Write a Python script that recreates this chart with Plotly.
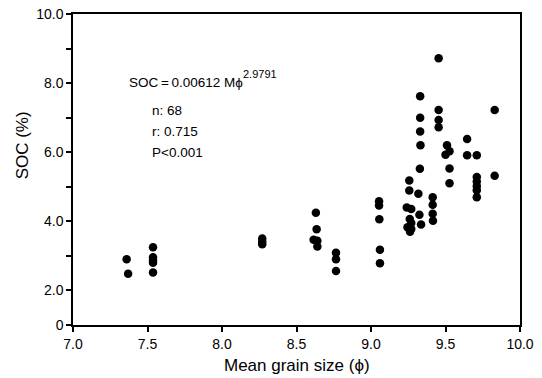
import plotly.graph_objects as go

# Mean grain size (phi) and soil organic carbon (%) for each sample
grain_size = [
    7.36, 7.37,
    7.537, 7.537, 7.537, 7.537, 7.537,
    8.27, 8.27, 8.27,
    8.63, 8.635, 8.615, 8.64, 8.64,
    8.765, 8.765, 8.765,
    9.054, 9.054, 9.056, 9.06, 9.06,
    9.257, 9.257, 9.24, 9.27, 9.26, 9.27, 9.245, 9.27, 9.262,
    9.318, 9.325, 9.336,
    9.33, 9.33, 9.33, 9.332, 9.328,
    9.414, 9.414, 9.414, 9.416,
    9.454, 9.454, 9.454, 9.454,
    9.51, 9.527, 9.50, 9.527, 9.527,
    9.645, 9.645,
    9.71, 9.71, 9.71, 9.71, 9.71, 9.71,
    9.83, 9.83,
]
soc = [
    2.90, 2.48,
    3.25, 2.96, 2.87, 2.80, 2.52,
    3.50, 3.42, 3.34,
    4.25, 3.77, 3.47, 3.44, 3.27,
    3.09, 2.90, 2.56,
    4.58, 4.46, 4.06, 3.18, 2.79,
    5.18, 4.89, 4.40, 4.36, 4.07, 3.95, 3.83, 3.78, 3.70,
    4.80, 4.19, 3.91,
    7.62, 7.00, 6.60, 6.20, 5.52,
    4.70, 4.48, 4.22, 4.02,
    8.72, 7.22, 6.93, 6.72,
    6.20, 6.03, 5.93, 5.53, 5.10,
    6.38, 5.91,
    5.91, 5.28, 5.15, 5.02, 4.90, 4.70,
    7.22, 5.32,
]

x_ticks = [7.0, 7.5, 8.0, 8.5, 9.0, 9.5, 10.0]
x_tick_labels = ["7.0", "7.5", "8.0", "8.5", "9.0", "9.5", "10.0"]
# the y axis is broken below 2.0: its bottom end stands for 0
y_ticks = [1.0, 2.0, 4.0, 6.0, 8.0, 10.0]
y_tick_labels = ["0", "2.0", "4.0", "6.0", "8.0", "10.0"]
y_minor_ticks = [3.0, 5.0, 7.0, 9.0]

fit_text = "SOC\u2009=\u20090.00612 Mϕ"
fit_exponent = "2.9791"
stats_lines = ["n: 68", "r: 0.715", "P&lt;0.001"]

FONT = "Liberation Sans, Arial, sans-serif"

fig = go.Figure()
fig.add_trace(go.Scatter(
    x=grain_size, y=soc, mode="markers",
    marker=dict(color="black", size=8.5, line=dict(width=0)),
    showlegend=False, hoverinfo="x+y",
))

axis_common = dict(
    showline=True, linecolor="black", linewidth=1.5, mirror=True,
    ticks="outside", ticklen=5, tickwidth=1.5, tickcolor="black",
    showgrid=False, zeroline=False, automargin=False,
    tickfont=dict(family=FONT, size=14, color="black"),
)

fig.update_xaxes(range=[7.0, 10.0], tickvals=x_ticks, ticktext=x_tick_labels, **axis_common)
fig.update_yaxes(
    range=[1.0, 10.0], tickvals=y_ticks, ticktext=y_tick_labels,
    minor=dict(tickvals=y_minor_ticks, ticks="outside", ticklen=5, tickwidth=1.5, tickcolor="black"),
    **axis_common,
)

# axis titles
fig.add_annotation(
    x=0.5, y=-0.129, xref="paper", yref="paper", xanchor="center", yanchor="middle",
    text="Mean grain size (ϕ)", showarrow=False,
    font=dict(family=FONT, size=17, color="black"),
)
fig.add_annotation(
    x=-0.114, y=6.2, xref="paper", yref="y", xanchor="center", yanchor="middle",
    text="SOC (%)", textangle=-90, showarrow=False,
    font=dict(family=FONT, size=17, color="black"),
)

# fitted power law
fig.add_annotation(
    x=7.36, y=8.02, xref="x", yref="y", xanchor="left", yanchor="middle",
    text=fit_text, showarrow=False,
    font=dict(family=FONT, size=13.5, color="black"),
)
fig.add_annotation(
    x=8.13, y=8.25, xref="x", yref="y", xanchor="left", yanchor="middle",
    text=fit_exponent, showarrow=False,
    font=dict(family=FONT, size=11, color="black"),
)
for i, line in enumerate(stats_lines):
    fig.add_annotation(
        x=7.52, y=7.2 - i * 0.61, xref="x", yref="y", xanchor="left", yanchor="middle",
        text=line, showarrow=False,
        font=dict(family=FONT, size=13.5, color="black"),
    )

fig.update_layout(
    width=542, height=378,
    margin=dict(l=73, r=22, t=14, b=53),
    paper_bgcolor="white", plot_bgcolor="white",
    font=dict(family=FONT, color="black"),
)

fig.write_html("out.html")
